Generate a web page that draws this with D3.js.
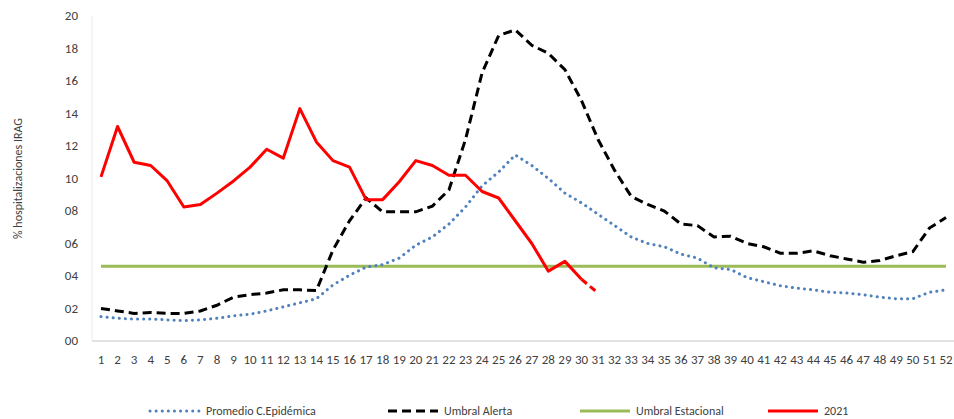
<!DOCTYPE html>
<html><head><meta charset="utf-8">
<script src="https://cdn.jsdelivr.net/npm/d3@7"></script>
<style>body{margin:0;background:#fff;font-family:Calibri,"Liberation Sans",Arial,sans-serif;}</style>
</head><body><div id="chart"></div>
<script>
const weeks = d3.range(1, 53);
const promedio = [1.5,1.4,1.35,1.35,1.3,1.25,1.3,1.4,1.55,1.65,1.85,2.1,2.35,2.6,3.45,4.05,4.55,4.7,5.1,5.9,6.4,7.2,8.25,9.55,10.4,11.45,10.8,10.0,9.1,8.5,7.8,7.1,6.4,6.0,5.8,5.35,5.1,4.5,4.4,3.9,3.65,3.4,3.25,3.15,3.0,2.95,2.85,2.7,2.6,2.6,3.0,3.15];
const alerta = [2.0,1.85,1.7,1.75,1.7,1.7,1.85,2.2,2.7,2.85,2.95,3.15,3.15,3.1,5.6,7.4,8.8,7.95,7.95,7.95,8.3,9.3,12.4,16.5,18.8,19.15,18.2,17.7,16.7,14.8,12.4,10.5,8.9,8.4,8.0,7.2,7.1,6.4,6.45,6.0,5.8,5.4,5.4,5.55,5.25,5.05,4.85,4.95,5.25,5.5,6.95,7.6];
const estacional = weeks.map(() => 4.6);
const y2021 = [10.1,13.2,11.0,10.8,9.85,8.25,8.4,9.1,9.85,10.7,11.8,11.25,14.3,12.25,11.1,10.7,8.7,8.7,9.8,11.1,10.8,10.2,10.2,9.2,8.8,7.4,6.0,4.3,4.9,3.8,2.95];
const yTicks = d3.range(0, 21, 2);

const W = 954, H = 419;
const margin = { top: 16, right: 8, bottom: 78, left: 92 };
const svg = d3.select('#chart').append('svg').attr('width', W).attr('height', H);

const x = d3.scalePoint().domain(weeks).range([101, 946]);
const y = d3.scaleLinear().domain([0, 20]).range([H - margin.bottom, margin.top]);

// axes
svg.append('line').attr('x1', margin.left).attr('x2', W)
  .attr('y1', y(0)).attr('y2', y(0)).attr('stroke', '#d9d9d9').attr('stroke-width', 1.5);
svg.append('line').attr('x1', margin.left).attr('x2', margin.left)
  .attr('y1', y(0)).attr('y2', y(20)).attr('stroke', '#ececec');

svg.selectAll('.yt').data(yTicks).enter().append('text')
  .attr('x', 78).attr('y', d => y(d) + 4).attr('text-anchor', 'end')
  .attr('font-size', 13).attr('fill', '#404040').text(d => d3.format('02d')(d));

svg.selectAll('.xt').data(weeks).enter().append('text')
  .attr('x', d => x(d)).attr('y', 364).attr('text-anchor', 'middle')
  .attr('font-size', 13).attr('fill', '#404040').text(d => d);

svg.append('text').attr('transform', `translate(22,${y(10)}) rotate(-90)`)
  .attr('text-anchor', 'middle').attr('font-size', 12).attr('fill', '#404040')
  .text('%  hospitalizaciones IRAG');

const line = d3.line().x((d, i) => x(weeks[i])).y(d => y(d));

svg.append('path').datum(estacional).attr('d', line).attr('fill', 'none')
  .attr('stroke', '#9bbb59').attr('stroke-width', 3);
svg.append('path').datum(promedio).attr('d', line).attr('fill', 'none')
  .attr('stroke', '#4f81bd').attr('stroke-width', 3).attr('stroke-dasharray', '0.1,6').attr('stroke-linecap', 'round');
svg.append('path').datum(alerta).attr('d', line).attr('fill', 'none')
  .attr('stroke', '#000').attr('stroke-width', 3).attr('stroke-dasharray', '9,5');
svg.append('path').datum(y2021.slice(0, 30)).attr('d', line).attr('fill', 'none')
  .attr('stroke', '#ff0000').attr('stroke-width', 3).attr('stroke-linejoin', 'round');
svg.append('path').datum([y2021[29], y2021[30]])
  .attr('d', d3.line().x((d, i) => x(weeks[29 + i])).y(d => y(d)))
  .attr('fill', 'none').attr('stroke', '#ff0000').attr('stroke-width', 3).attr('stroke-dasharray', '7,4');

// legend
const legend = [
  { name: 'Promedio  C.Epidémica', color: '#4f81bd', dash: '0.1,6', x: 150 },
  { name: 'Umbral Alerta', color: '#000', dash: '9,5', x: 388 },
  { name: 'Umbral Estacional', color: '#9bbb59', dash: null, x: 580 },
  { name: '2021', color: '#ff0000', dash: null, x: 768 }
];
const lg = svg.selectAll('.lg').data(legend).enter().append('g')
  .attr('transform', d => `translate(${d.x},411)`);
lg.append('line').attr('x1', 0).attr('x2', 50).attr('stroke', d => d.color)
  .attr('stroke-width', 3).attr('stroke-dasharray', d => d.dash).attr('stroke-linecap', d => d.dash === '0.1,6' ? 'round' : null);
lg.append('text').attr('x', 56).attr('y', 4).attr('font-size', 12).attr('fill', '#404040').text(d => d.name);
</script></body></html>
